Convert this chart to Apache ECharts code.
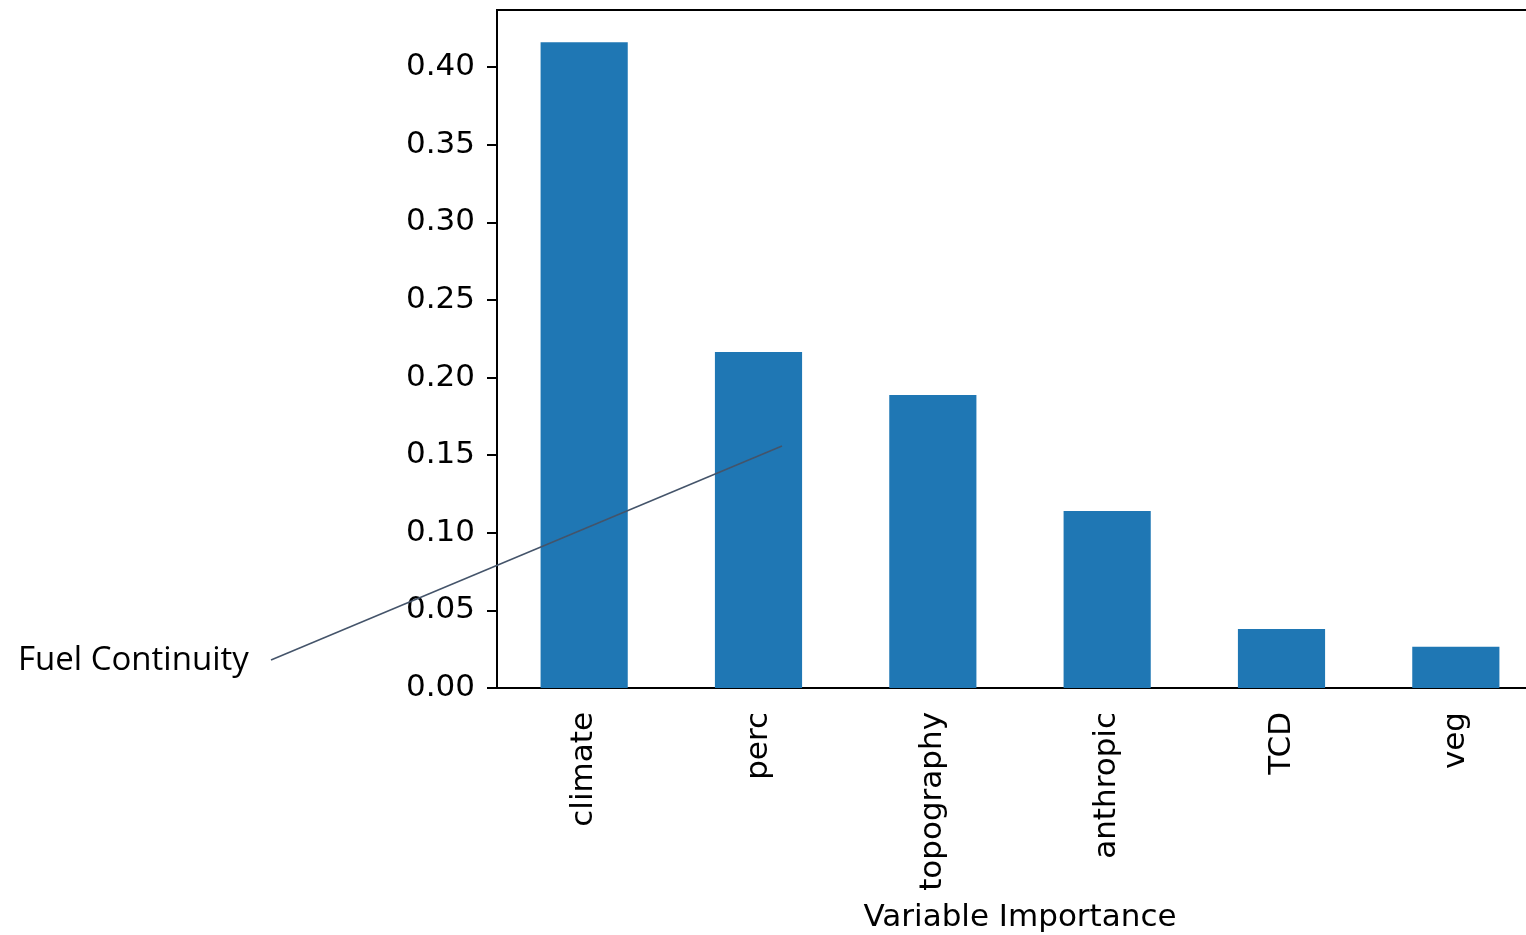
<!DOCTYPE html>
<html>
<head>
<meta charset="utf-8">
<script src="https://cdn.jsdelivr.net/npm/echarts@6/dist/echarts.min.js"></script>
<style>
  html, body { margin: 0; padding: 0; background: #fff; }
  #chart { width: 1526px; height: 935px; }
</style>
</head>
<body>
<div id="chart"></div>
<script>
// variable importance values
const categories = ["climate", "perc", "topography", "anthropic", "TCD", "veg"];
const importance = [0.416, 0.2165, 0.1887, 0.1141, 0.038, 0.0265];
const yTicks = [0, 0.05, 0.1, 0.15, 0.2, 0.25, 0.3, 0.35, 0.4];

const chart = echarts.init(document.getElementById("chart"));
chart.setOption({
  animation: false,
  backgroundColor: "#fff",
  grid: {
    left: 497,
    top: 10,
    width: 1046,
    height: 678,
    outerBoundsMode: "none",
    containLabel: false,
    show: true,
    borderColor: "#000",
    borderWidth: 2,
    backgroundColor: "transparent"
  },
  xAxis: {
    type: "category",
    data: categories,
    name: "Variable Importance",
    nameLocation: "middle",
    nameGap: 214,
    nameTextStyle: { color: "#000", fontSize: 31, fontFamily: "DejaVu Sans" },
    axisLine: { lineStyle: { color: "#000", width: 2 } },
    axisTick: { alignWithLabel: true, length: 10, lineStyle: { color: "#000", width: 2 } },
    axisLabel: {
      rotate: 90,
      margin: 24,
      color: "#000",
      fontSize: 31,
      fontFamily: "DejaVu Sans"
    },
    splitLine: { show: false }
  },
  yAxis: {
    type: "value",
    min: 0,
    max: 0.4368,
    axisLine: { show: true, lineStyle: { color: "#000", width: 2 } },
    axisTick: {
      show: true,
      length: 10,
      customValues: yTicks,
      lineStyle: { color: "#000", width: 2 }
    },
    axisLabel: {
      customValues: yTicks,
      margin: 22,
      color: "#000",
      fontSize: 31,
      fontFamily: "DejaVu Sans",
      formatter: function (v) { return v.toFixed(2); }
    },
    splitLine: { show: false }
  },
  series: [
    {
      type: "bar",
      data: importance,
      barWidth: "50%",
      itemStyle: { color: "#1f77b4" }
    }
  ],
  graphic: [
    {
      type: "line",
      shape: { x1: 271, y1: 660, x2: 782, y2: 446 },
      style: { stroke: "#44546a", lineWidth: 1.5 },
      z: 100
    },
    {
      type: "text",
      left: 18,
      top: 644,
      style: {
        text: "Fuel Continuity",
        fill: "#000",
        font: "33px 'Open Sans'"
      }
    }
  ]
});
</script>
</body>
</html>
